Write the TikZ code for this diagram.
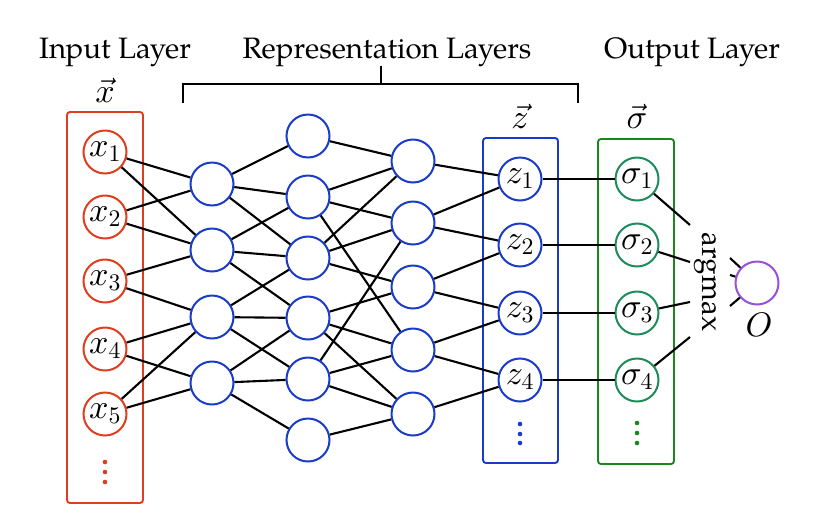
\documentclass[tikz,border=0pt]{standalone}
\usepackage[no-math]{fontspec}
\setmainfont{TeX Gyre Pagella}
\DeclareFontShape{OML}{cmm}{m}{it}{<->cmmi10}{}
\DeclareFontShape{OT1}{cmr}{m}{n}{<->cmr10}{}
\DeclareFontShape{OMS}{cmsy}{m}{n}{<->cmsy10}{}
\definecolor{redc}{RGB}{222,62,30}
\definecolor{bluec}{RGB}{25,60,200}
\definecolor{greenc}{RGB}{30,140,90}
\definecolor{greenbox}{RGB}{25,135,30}
\definecolor{purplec}{RGB}{150,80,220}
\begin{document}
\begin{tikzpicture}[x=1pt,y=-1pt,font=\fontsize{29.5}{35}\selectfont,
  mth/.style={font=\fontsize{34}{40}\selectfont},
  neuron/.style={circle,draw,line width=2pt,minimum size=43pt,inner sep=0pt,fill=white,mth},
  edge/.style={line width=2.1pt,black},
  thickedge/.style={line width=2.8pt,black},
  layerbox/.style={draw,line width=1.9pt,rounded corners=3pt,minimum width=76pt,inner sep=0pt},
  title/.style={anchor=base},
  dot/.style={radius=2.3pt}]
\useasboundingbox (0,0) rectangle (819,515);

% titles
\node[title] (tin) at (115,58) {Input Layer};
\node[title] (trep) at (387,58) {Representation Layers};
\node[title] (tout) at (692,58) {Output Layer};

% bracket
\draw[line width=2.3pt] (183,103) -- (183,84) -- (578,84) -- (578,103);
\draw[line width=2.3pt] (381,84) -- (381,66);

% boxes
\node[layerbox,draw=redc,minimum height=391pt] (xbox) at (105,307.5) {};
\node[layerbox,draw=bluec,minimum width=75pt,minimum height=325pt] (zbox) at (520.5,300.5) {};
\node[layerbox,draw=greenbox,minimum height=325pt] (sbox) at (636,301.5) {};

% vector labels
\node[anchor=base,mth] (vx) at (105,102) {$\vec{x}$};
\node[anchor=base,mth] (vz) at (520,128) {$\vec{z}$};
\node[anchor=base,mth] (vs) at (637,128) {$\vec{\sigma}$};

% input neurons
\foreach \i/\y in {1/152,2/217,3/281,4/349,5/414}
  \node[neuron,draw=redc] (x\i) at (105,\y) {$x_\i$};
% hidden layer A
\foreach \i/\y in {1/184,2/250,3/317,4/383}
  \node[neuron,draw=bluec] (a\i) at (212,\y) {};
% hidden layer B
\foreach \i/\y in {1/136,2/197,3/258,4/318,5/379,6/440}
  \node[neuron,draw=bluec] (b\i) at (308,\y) {};
% hidden layer C
\foreach \i/\y in {1/161,2/223,3/287,4/350,5/414}
  \node[neuron,draw=bluec] (c\i) at (413,\y) {};
% z layer and sigma layer
\foreach \i/\y in {1/179,2/245,3/313,4/380}{
  \node[neuron,draw=bluec] (z\i) at (520,\y) {$z_\i$};
  \node[neuron,draw=greenc] (s\i) at (637,\y) {$\sigma_\i$};
}

% dots
\fill[redc] (105,462) circle[dot] (105,472) circle[dot] (105,482) circle[dot];
\fill[bluec] (520,424) circle[dot] (520,434) circle[dot] (520,443) circle[dot];
\fill[greenbox] (637,423) circle[dot] (637,433) circle[dot] (637,443) circle[dot];

% connections
\foreach \p/\q in {x1/a1,x1/a2,x2/a1,x2/a2,x3/a2,x3/a3,x4/a3,x4/a4,x5/a3,x5/a4,
  a1/b1,a1/b2,a1/b3,a2/b2,a2/b3,a2/b4,a3/b3,a3/b4,a3/b5,a4/b4,a4/b5,a4/b6,
  b1/c1,b2/c1,b2/c2,b2/c4,b3/c1,b3/c2,b3/c3,b4/c3,b4/c4,b4/c5,b5/c2,b5/c4,b5/c5,b6/c5,
  c1/z1,c2/z1,c2/z2,c3/z2,c3/z3,c4/z3,c4/z4,c5/z4,z2/s2,z4/s4}
  \draw[edge] (\p) -- (\q);
\draw[thickedge] (z1) -- (s1);
\draw[thickedge] (z3) -- (s3);

% argmax
\node[rotate=-90] (argmax) at (705,282) {argmax};
\coordinate (g1) at (690,225);
\coordinate (g2) at (690,262);
\coordinate (g3) at (690,302);
\coordinate (g4) at (690,337);
\foreach \i in {1,...,4} \draw[edge] (s\i) -- (g\i);

% output
\node[neuron,draw=purplec] (o) at (757,283) {};
\node[mth] (olab) at (759,325) {$O$};
\coordinate (h1) at (730,258);
\coordinate (h2) at (730,275);
\coordinate (h3) at (730,306);
\foreach \i in {1,2,3} \draw[edge] (h\i) -- (o);
\end{tikzpicture}
\end{document}
